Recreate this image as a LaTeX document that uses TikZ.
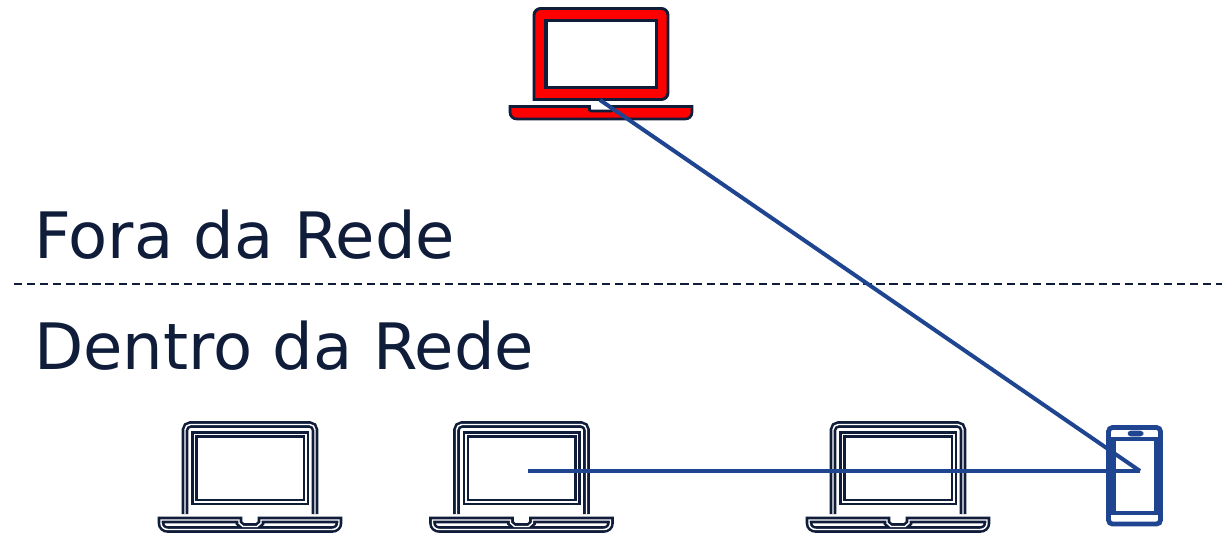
\documentclass[tikz,border=0pt]{standalone}
\usepackage{fontspec}
\setmainfont{DejaVu Sans}
\definecolor{navy}{HTML}{0F1D3A}
\definecolor{linkblue}{HTML}{1F4591}
\tikzset{
  px/.style={x=0.75pt,y=-0.75pt},
  label text/.style={font=\fontsize{48}{56}\selectfont,text=navy,inner sep=0pt,anchor=base west},
  link/.style={draw=linkblue,line width=3pt},
  phone line/.style={draw=linkblue,line width=3.6pt,line join=miter},
  gapline/.style={draw=navy,line width=5pt},
  gapfill/.style={draw=white,line width=1.1pt},
}
\newcommand{\grayparts}[1]{%
  \begin{scope}[shift={(#1,0)}]
    \foreach \st in {gapline,gapfill}{
      \draw[\st,rounded corners=4pt] (185,514) -- (185,424.5) -- (315,424.5) -- (315,514);
      \draw[\st] (194.5,434.5) rectangle (306,502);
      \draw[\st,line join=miter] (161,520) -- (239,520) -- (239,523) -- (243,526.5) -- (257,526.5) -- (261,523) -- (261,520) -- (339,520) -- (339,523) .. controls (339,527) and (336,529.5) .. (332,529.5) -- (168,529.5) .. controls (164,529.5) and (161,527) .. (161,523) -- cycle;
    }
  \end{scope}}
\begin{document}
\begin{tikzpicture}[px]
\useasboundingbox (0,0) rectangle (1227,532);
\clip (0,0) rectangle (1227,532);
% gray laptops
\grayparts{0}
\grayparts{271.5}
\grayparts{648}
% red laptop
\draw[fill=red,draw=navy,line width=2.2pt,rounded corners=5pt]
  (534,99.5) -- (534,8.5) -- (668,8.5) -- (668,99.5) [sharp corners] -- cycle;
\draw[fill=white,draw=navy,line width=2.4pt] (546,20.5) rectangle (656.5,87.5);
\draw[fill=red,draw=navy,line width=2pt,line join=miter]
  (510,106.5) -- (589.5,106.5) -- (589.5,110) -- (591,111) -- (611,111) -- (612.5,110) -- (612.5,106.5) -- (692,106.5) -- (692,112) .. controls (692,116.5) and (689,119) .. (685,119) -- (517,119) .. controls (513,119) and (510,116.5) .. (510,112) -- cycle;
% phone
\draw[phone line,rounded corners=3pt] (1108.5,427.5) rectangle (1160.5,524);
\draw[phone line] (1113.5,439) rectangle (1156,513);
\draw[linkblue,fill=linkblue,rounded corners=2pt] (1128,431) rectangle (1143,436);
% labels
\node[label text] (outside) at (34,258) {Fora da Rede};
\node[label text] (inside) at (34,369) {Dentro da Rede};
% divider
\coordinate (divL) at (14,284);
\coordinate (divR) at (1222,284);
\draw[navy,line width=1.1pt,dash pattern=on 6.2pt off 3.6pt] (divL) -- (divR);
% links
\coordinate (redport) at (600,100);
\coordinate (hub) at (1140,471);
\coordinate (graylap) at (528,471);
\draw[link] (redport) -- (hub);
\draw[link] (graylap) -- (hub);
\end{tikzpicture}
\end{document}
